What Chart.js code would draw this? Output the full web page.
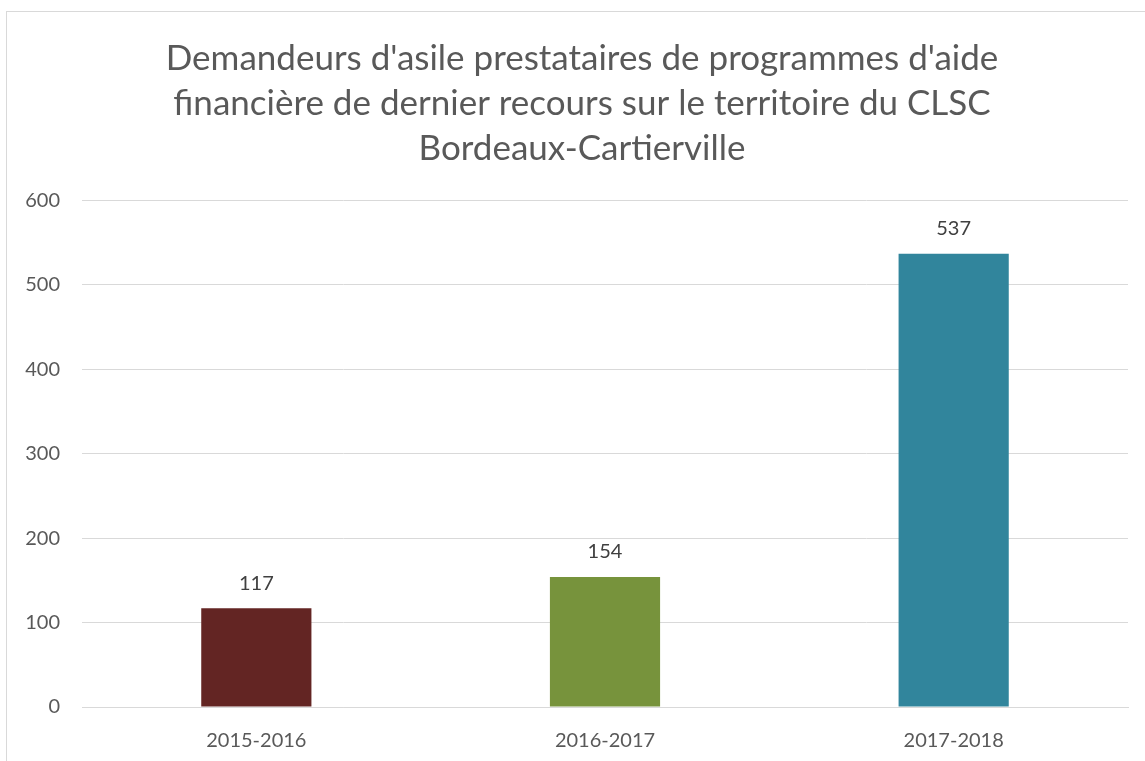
<!DOCTYPE html>
<html>
<head>
<meta charset="utf-8">
<script src="https://cdn.jsdelivr.net/npm/chart.js@4/dist/chart.umd.min.js"></script>
<style>
  html, body { margin: 0; padding: 0; background: #fff; overflow: hidden; }
  #frame {
    position: absolute; left: 6px; top: 11px;
    width: 1150px; height: 760px;
    border: 1px solid #d9d9d9; background: #fff;
  }
  #c { display: block; }
</style>
</head>
<body>
<div id="frame"><canvas id="c" width="1150" height="760"></canvas></div>
<script>
const categories = ['2015-2016', '2016-2017', '2017-2018'];
const values = [117, 154, 537];
const barColors = ['#632523', '#77933C', '#31859C'];
const yTicks = [0, 100, 200, 300, 400, 500, 600];
const titleLines = [
  "Demandeurs d'asile prestataires de programmes d'aide",
  "financière de dernier recours sur le territoire du CLSC",
  "Bordeaux-Cartierville"
];

const FONT = "Lato, 'Open Sans', sans-serif";

// Writes each bar's value above it
const valueLabels = {
  id: 'valueLabels',
  afterDatasetsDraw(chart) {
    const ctx = chart.ctx;
    const meta = chart.getDatasetMeta(0);
    ctx.save();
    ctx.font = '20px ' + FONT;
    ctx.fillStyle = '#404040';
    ctx.textAlign = 'center';
    ctx.textBaseline = 'middle';
    meta.data.forEach((bar, i) => {
      ctx.fillText(String(values[i]), bar.x, bar.y - 25);
    });
    ctx.restore();
  }
};

new Chart(document.getElementById('c'), {
  type: 'bar',
  data: {
    labels: categories,
    datasets: [{
      data: values,
      backgroundColor: barColors,
      borderWidth: 0,
      categoryPercentage: 1,
      barPercentage: 0.316
    }]
  },
  options: {
    responsive: false,
    animation: false,
    layout: { padding: 0 },
    plugins: {
      legend: { display: false },
      tooltip: { enabled: false },
      title: {
        display: true,
        text: titleLines,
        color: '#595959',
        font: { family: FONT, size: 35, weight: 'normal', lineHeight: 1.29 },
        padding: { top: 24, bottom: 29 }
      }
    },
    scales: {
      x: {
        grid: { display: false, drawTicks: false },
        border: { display: true, color: '#d9d9d9', width: 1 },
        ticks: { color: '#595959', font: { family: FONT, size: 20 }, padding: 22 },
        afterFit(scale) { scale.height = 65; }
      },
      y: {
        min: 0, max: 600,
        afterBuildTicks(scale) { scale.ticks = yTicks.map(v => ({ value: v })); },
        grid: { color: '#d9d9d9', lineWidth: 1, drawTicks: false },
        border: { display: false },
        ticks: { color: '#595959', font: { family: FONT, size: 20 }, padding: 22 },
        afterFit(scale) { scale.width = 75; }
      },
      // empty right-hand margin beside the plot
      yRight: {
        position: 'right',
        min: 0, max: 600,
        grid: { display: false, drawTicks: false },
        border: { display: false },
        ticks: { display: false },
        afterFit(scale) { scale.width = 29; }
      }
    }
  },
  plugins: [valueLabels]
});
</script>
</body>
</html>
